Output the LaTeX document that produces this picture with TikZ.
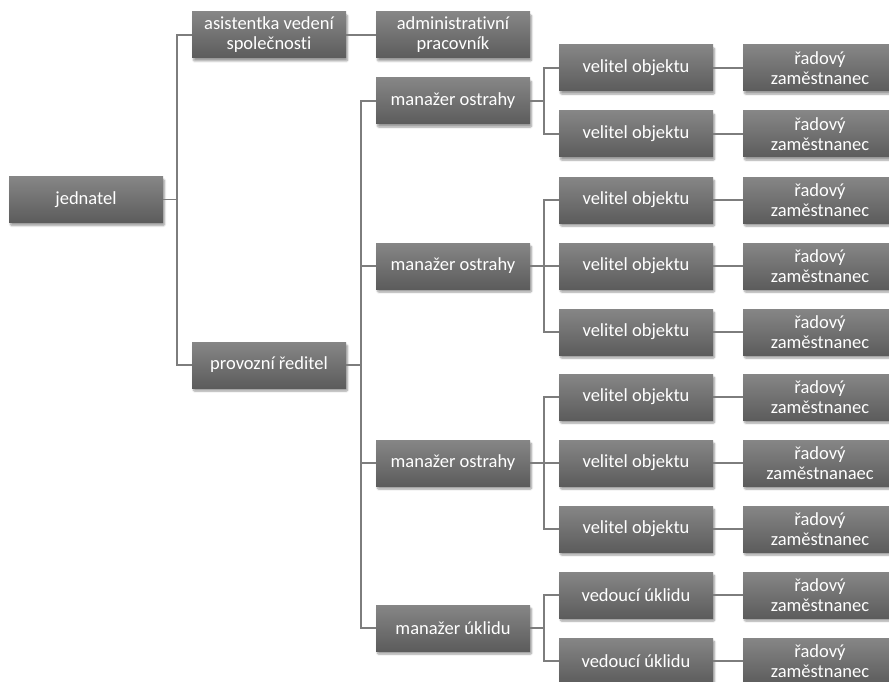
\documentclass[tikz,border=0pt]{standalone}
\usepackage{fontspec}
\setmainfont{Carlito}[Ligatures=NoCommon]
\usetikzlibrary{shadows.blur}
\definecolor{boxtop}{RGB}{134,134,134}
\definecolor{boxbot}{RGB}{92,92,92}
\definecolor{linec}{RGB}{125,125,125}
\tikzset{
  orgbox/.style={rectangle, minimum width=154pt, minimum height=46pt, inner sep=0pt,
    align=center, text=white, top color=boxtop, bottom color=boxbot,
    font=\fontsize{18.5}{20}\selectfont,
    blur shadow={shadow xshift=1.5pt, shadow yshift=-3pt, shadow opacity=40, shadow blur steps=6, shadow blur extra rounding=1pt}},
  conn/.style={draw=linec, line width=1.6pt}
}
\begin{document}
\begin{tikzpicture}[x=1pt,y=-1pt]
\useasboundingbox (0,0) rectangle (889,682);
% column x centres: 86, 269, 453, 636, 820
\node[orgbox] (jed) at (86,199.5) {jednatel};
\node[orgbox] (asi) at (269,35) {asistentka vedení\\společnosti};
\node[orgbox] (pro) at (269,365) {provozní ředitel};
\node[orgbox] (adm) at (453,35) {administrativní\\pracovník};
\node[orgbox] (m1) at (453,101) {manažer ostrahy};
\node[orgbox] (m2) at (453,266) {manažer ostrahy};
\node[orgbox] (m3) at (453,463) {manažer ostrahy};
\node[orgbox] (m4) at (453,628) {manažer úklidu};
\node[orgbox] (v1) at (636,68) {velitel objektu};
\node[orgbox] (v2) at (636,134) {velitel objektu};
\node[orgbox] (v3) at (636,200) {velitel objektu};
\node[orgbox] (v4) at (636,266) {velitel objektu};
\node[orgbox] (v5) at (636,332) {velitel objektu};
\node[orgbox] (v6) at (636,397) {velitel objektu};
\node[orgbox] (v7) at (636,463) {velitel objektu};
\node[orgbox] (v8) at (636,529) {velitel objektu};
\node[orgbox] (v9) at (636,595) {vedoucí úklidu};
\node[orgbox] (v10) at (636,661) {vedoucí úklidu};
\node[orgbox] (r1) at (820,68) {řadový\\zaměstnanec};
\node[orgbox] (r2) at (820,134) {řadový\\zaměstnanec};
\node[orgbox] (r3) at (820,200) {řadový\\zaměstnanec};
\node[orgbox] (r4) at (820,266) {řadový\\zaměstnanec};
\node[orgbox] (r5) at (820,332) {řadový\\zaměstnanec};
\node[orgbox] (r6) at (820,397) {řadový\\zaměstnanec};
\node[orgbox] (r7) at (820,463) {řadový\\zaměstnanaec};
\node[orgbox] (r8) at (820,529) {řadový\\zaměstnanec};
\node[orgbox] (r9) at (820,595) {řadový\\zaměstnanec};
\node[orgbox] (r10) at (820,661) {řadový\\zaměstnanec};
% connectors
\foreach \t in {asi,pro} \draw[conn] (jed.east) -- ([xshift=14pt]jed.east) |- (\t.west);
\draw[conn] (asi.east) -- (adm.west);
\foreach \t in {m1,m2,m3,m4} \draw[conn] (pro.east) -- ([xshift=15pt]pro.east) |- (\t.west);
\foreach \t in {v1,v2} \draw[conn] (m1.east) -- ([xshift=14pt]m1.east) |- (\t.west);
\foreach \t in {v3,v4,v5} \draw[conn] (m2.east) -- ([xshift=14pt]m2.east) |- (\t.west);
\foreach \t in {v6,v7,v8} \draw[conn] (m3.east) -- ([xshift=14pt]m3.east) |- (\t.west);
\foreach \t in {v9,v10} \draw[conn] (m4.east) -- ([xshift=14pt]m4.east) |- (\t.west);
\foreach \i in {1,...,10} \draw[conn] (v\i.east) -- (r\i.west);
\end{tikzpicture}
\end{document}
